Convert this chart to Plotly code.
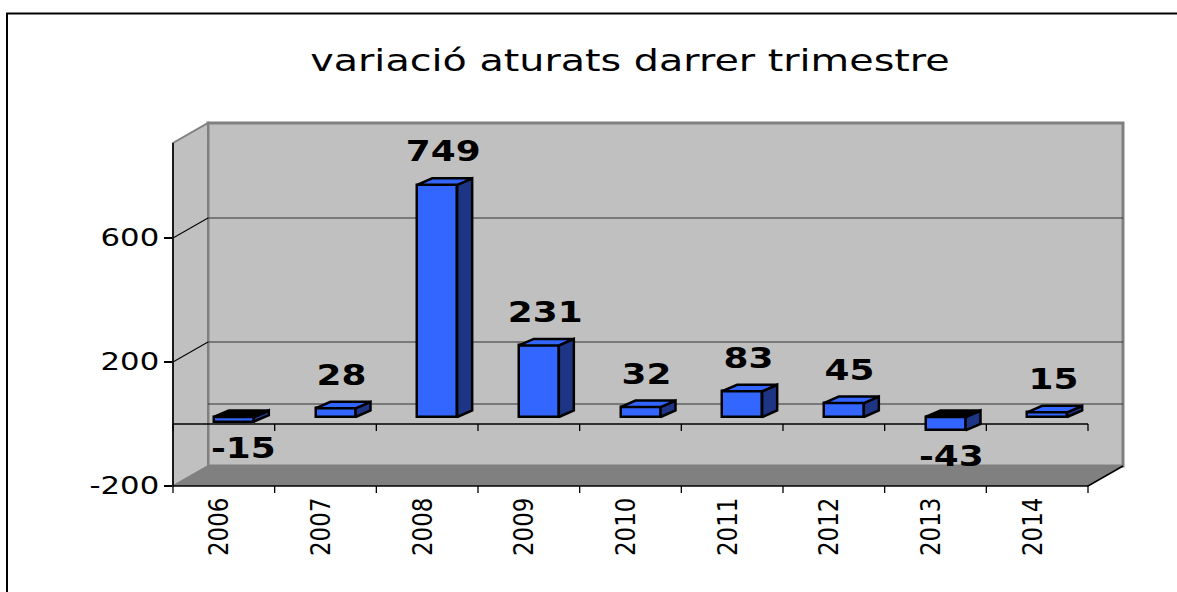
import plotly.graph_objects as go

# ---------------- data ----------------
years = ["2006", "2007", "2008", "2009", "2010", "2011", "2012", "2013", "2014"]
values = [-15, 28, 749, 231, 32, 83, 45, -43, 15]
y_tick_vals = [-200, 200, 600]
y_tick_text = ["-200", "200", "600"]
grid_vals = [0, 200, 600]
title_text = "variació aturats darrer trimestre"

# ---------------- geometry ----------------
W, H = 1177, 592
ML, MR, MT, MB = 173, 52, 123, 106
PW = W - ML - MR
PH = H - MT - MB
N = len(years)
XPX = 915.0 / N          # px per category
X0, X1 = 0.0, PW / XPX
Y0 = -200.0
YPX = 0.31               # px per value unit
Y1 = Y0 + PH / YPX
DX = 35.0 / XPX          # wall depth (x units)
DY = 20.0 / YPX          # wall depth (y units)
BX = 10.0 / XPX          # bar front-face offset
BY = 7.0 / YPX
BW = 40.0 / XPX          # bar width
DDX = 15.0 / XPX         # bar depth
DDY = 6.5 / YPX
STRETCH = 1.28           # horizontal widening of text in the reference
XLAB_STRETCH = 1.15

FRONT = "#3366FF"
SIDE = "#1E3585"
WALL = "#C0C0C0"
FLOOR = "#808080"


def px(x):
    return (x - X0) / (X1 - X0)


def py(y):
    return (y - Y0) / (Y1 - Y0)


def path(pts, close=True):
    s = "M " + " L ".join(f"{px(x):.5f},{py(y):.5f}" for x, y in pts)
    return s + (" Z" if close else "")


shapes = []


def add_poly(pts, fill, lc="rgba(0,0,0,0)", lw=0):
    shapes.append(dict(type="path", xref="paper", yref="paper", path=path(pts),
                       fillcolor=fill, line=dict(color=lc, width=lw), layer="below"))


def add_line(a, b, color="black", width=1.3):
    shapes.append(dict(type="line", xref="paper", yref="paper",
                       x0=px(a[0]), y0=py(a[1]), x1=px(b[0]), y1=py(b[1]),
                       line=dict(color=color, width=width), layer="below"))


# outer border (top and left visible)
shapes.append(dict(type="rect", xref="paper", yref="paper",
                   x0=(7 - ML) / PW, x1=(W + 20 - ML) / PW,
                   y0=(H - MB - (H + 20)) / PH, y1=(H - MB - 13.5) / PH,
                   line=dict(color="black", width=2), fillcolor="rgba(0,0,0,0)", layer="below"))

# walls and floor
add_poly([(DX, Y0 + DY), (N + DX, Y0 + DY), (N + DX, Y1), (DX, Y1)], WALL, FLOOR, 3)
add_poly([(0, Y0), (DX, Y0 + DY), (DX, Y1), (0, Y1 - DY)], WALL, FLOOR, 2)
add_poly([(0, Y0), (N, Y0), (N + DX, Y0 + DY), (DX, Y0 + DY)], FLOOR)

# gridlines
for v in grid_vals:
    add_line((DX, v + DY), (N + DX, v + DY), "#333333", 1.2)
    if v != 0:
        add_line((0, v), (DX, v + DY), "black", 1.1)

# front zero line with ticks
add_line((0, 0), (N, 0), "black", 1.3)
for k in range(N + 1):
    add_line((k, 0), (k, -7.0 / YPX), "black", 1.3)

# axis lines
add_line((0, Y0), (0, Y1 - DY), "black", 1.6)
add_line((0, Y0), (N, Y0), "black", 1.6)
add_line((N, Y0), (N + DX, Y0 + DY), "black", 1.6)
for k in range(N + 1):
    add_line((k, Y0), (k, Y0 - 7.0 / YPX), "black", 1.3)

# ---------------- bars ----------------
centers = [i + 0.5 + BX for i in range(N)]

side_x, side_y = [], []
topp_x, topp_y = [], []
topn_x, topn_y = [], []
for c, v in zip(centers, values):
    L, R = c - BW / 2, c + BW / 2
    lo, hi = min(BY, BY + v), max(BY, BY + v)
    side_x += [R, R + DDX, R + DDX, R, R, None]
    side_y += [lo, lo + DDY, hi + DDY, hi, lo, None]
    tx = [L, R, R + DDX, L + DDX, L, None]
    ty = [hi, hi, hi + DDY, hi + DDY, hi, None]
    if v >= 0:
        topp_x += tx
        topp_y += ty
    else:
        topn_x += tx
        topn_y += ty

EDGE = 2.5
fig = go.Figure()
fig.add_trace(go.Bar(x=centers, y=values, base=BY, width=BW,
                     marker=dict(color=FRONT, line=dict(color="black", width=EDGE)),
                     hoverinfo="skip", showlegend=False))
fig.add_trace(go.Scatter(x=side_x, y=side_y, mode="lines", fill="toself", fillcolor=SIDE,
                         line=dict(color="black", width=EDGE), hoverinfo="skip", showlegend=False))
fig.add_trace(go.Scatter(x=topp_x, y=topp_y, mode="lines", fill="toself", fillcolor=FRONT,
                         line=dict(color="black", width=EDGE), hoverinfo="skip", showlegend=False))
fig.add_trace(go.Scatter(x=topn_x, y=topn_y, mode="lines", fill="toself", fillcolor="black",
                         line=dict(color="black", width=EDGE), hoverinfo="skip", showlegend=False))

# value labels
LAB_SIZE = 28
annotations = []
for c, v in zip(centers, values):
    txt = str(v)
    lx = c + 0.4 * DDX
    wpx = len(txt) * 0.70 * LAB_SIZE * STRETCH
    left_px = (lx - X0) * XPX - wpx / 2
    wall_px = DX * XPX + 8
    xa, xv = "center", lx
    if left_px < wall_px:
        xa, xv = "left", X0 + wall_px / XPX
    common = dict(xref="x", yref="y", text=txt, showarrow=False, xanchor=xa,
                  font=dict(family="DejaVu Sans", size=LAB_SIZE, color="black", weight="bold"))
    if v >= 0:
        annotations.append(dict(x=xv, y=BY + v + DDY, yanchor="bottom", yshift=8, **common))
    else:
        annotations.append(dict(x=xv, y=BY + v, yanchor="top", yshift=-8, **common))

fig.update_layout(
    width=W, height=H,
    margin=dict(l=ML, r=MR, t=MT, b=MB, pad=0),
    paper_bgcolor="white", plot_bgcolor="rgba(0,0,0,0)",
    font=dict(family="DejaVu Sans", color="black"),
    title=dict(text=title_text, x=630 / W, xref="container", xanchor="center",
               y=1 - 60 / H, yref="container", yanchor="middle",
               font=dict(family="DejaVu Sans", size=31, color="black")),
    shapes=shapes,
    annotations=annotations,
    bargap=0,
    xaxis=dict(range=[X0, X1], tickvals=[i + 0.46 for i in range(N)], ticktext=years,
               tickangle=-90, ticks="", showgrid=False, zeroline=False, showline=False,
               ticklabelstandoff=6, tickfont=dict(family="DejaVu Sans", size=23, color="black"),
               fixedrange=True),
    yaxis=dict(range=[Y0, Y1], tickvals=y_tick_vals, ticktext=y_tick_text,
               ticks="outside", ticklen=8, tickwidth=1.5, tickcolor="black",
               showgrid=False, zeroline=False, showline=False,
               tickfont=dict(family="DejaVu Sans", size=24, color="black"),
               fixedrange=True),
)

post = """
document.body.style.margin = '0';
var gd = document.getElementById('{plot_id}');
var SX = %f, SXL = %f;
function stretch(t, mode) {
  var b = t.getBBox();
  var cx = mode === 'end' ? b.x + b.width : (mode === 'start' ? b.x : b.x + b.width / 2);
  var tr = t.getAttribute('transform') || '';
  t.setAttribute('transform', tr + ' translate(' + cx + ',0) scale(' + SX + ',1) translate(' + (-cx) + ',0)');
}
function stretchY(t) {
  var b = t.getBBox();
  var cy = b.y + b.height / 2;
  var tr = t.getAttribute('transform') || '';
  t.setAttribute('transform', tr + ' translate(0,' + cy + ') scale(1,' + SXL + ') translate(0,' + (-cy) + ')');
}
gd.querySelectorAll('text.gtitle').forEach(function(t){ stretch(t, 'middle'); });
gd.querySelectorAll('text.annotation-text').forEach(function(t){
  var a = t.getAttribute('text-anchor');
  stretch(t, a === 'start' ? 'start' : (a === 'end' ? 'end' : 'middle'));
});
gd.querySelectorAll('.ytick text').forEach(function(t){ stretch(t, 'end'); });
gd.querySelectorAll('.xtick text').forEach(function(t){ stretchY(t); });
""" % (STRETCH, XLAB_STRETCH)

fig.write_html("out.html", post_script=post, config={"displayModeBar": False})
